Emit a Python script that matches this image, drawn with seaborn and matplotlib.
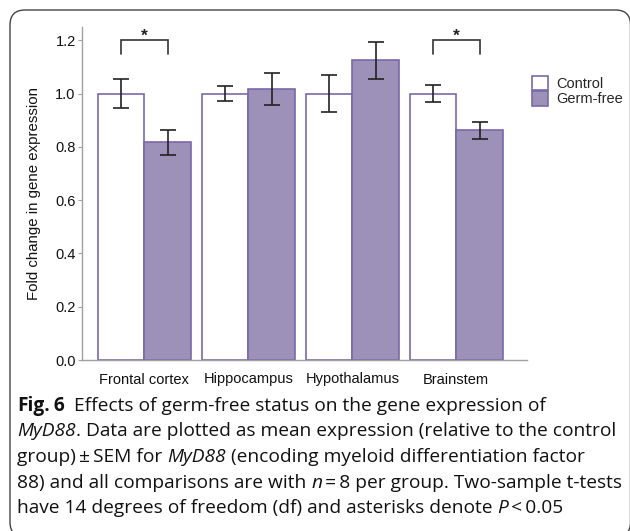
import numpy as np
import pandas as pd
import matplotlib
matplotlib.use("Agg")
import matplotlib.pyplot as plt
import seaborn as sns
from matplotlib.patches import FancyBboxPatch, Patch

# ---------------- data ----------------
regions = ["Frontal cortex", "Hippocampus", "Hypothalamus", "Brainstem"]
groups = ["Control", "Germ-free"]
control_mean = [1.0, 1.0, 1.0, 1.0]
control_sem = [0.055, 0.028, 0.068, 0.033]
germfree_mean = [0.818, 1.016, 1.125, 0.862]
germfree_sem = [0.047, 0.060, 0.070, 0.033]
significant = [True, False, False, True]
y_ticks = [0.0, 0.2, 0.4, 0.6, 0.8, 1.0, 1.2]
bracket_low, bracket_high = 1.15, 1.20

df = pd.DataFrame({
    "region": regions * 2,
    "group": [groups[0]] * len(regions) + [groups[1]] * len(regions),
    "mean": control_mean + germfree_mean,
    "sem": control_sem + germfree_sem,
})

# ---------------- style ----------------
sns.set_theme(style="white")
plt.rcParams["font.family"] = ["Liberation Sans", "DejaVu Sans"]

W, H = 630, 531
fig = plt.figure(figsize=(W / 100, H / 100), dpi=100)
ax = fig.add_axes([82 / W, 1 - 360 / H, (527 - 82) / W, (360 - 27) / H])

edge = "#7a68a8"
fill = "#9d90b9"
palette = {"Control": "white", "Germ-free": fill}

sns.barplot(data=df, x="region", y="mean", hue="group", order=regions,
            hue_order=groups, palette=palette, saturation=1, width=0.9,
            edgecolor=edge, linewidth=1.2, errorbar=None, legend=False, ax=ax)

sems = [control_sem, germfree_sem]
bar_containers = list(ax.containers)
centers = []
for k, cont in enumerate(bar_containers):
    xs = [b.get_x() + b.get_width() / 2 for b in cont]
    hs = [b.get_height() for b in cont]
    centers.append(xs)
    ax.errorbar(xs, hs, yerr=sems[k], fmt="none", ecolor="#222222",
                elinewidth=1.2, capsize=5.5, capthick=1.2, zorder=5)

for i, sig in enumerate(significant):
    if sig:
        x1, x2 = centers[0][i], centers[1][i]
        ax.plot([x1, x1, x2, x2], [bracket_low, bracket_high, bracket_high, bracket_low],
                color="#333333", lw=1.2, solid_joinstyle="miter", clip_on=False)
        ax.text((x1 + x2) / 2, bracket_high - 0.013, "*", ha="center", va="bottom",
                fontsize=12.5, fontweight="bold", color="#222222", clip_on=False)

ax.set_xlim(-0.6, 3.68)
ax.set_ylim(0, 1.25)
ax.set_yticks(y_ticks)
ax.set_yticklabels([f"{v:.1f}" for v in y_ticks])
ax.set_xlabel("")
ax.set_ylabel("Fold change in gene expression", fontsize=10.8, color="#111111", labelpad=10)
for s in ["top", "right"]:
    ax.spines[s].set_visible(False)
for s in ["left", "bottom"]:
    ax.spines[s].set_color("#a0a0a0")
    ax.spines[s].set_linewidth(1.0)
ax.tick_params(axis="y", length=3, width=0.8, color="#a0a0a0", pad=1.5,
               labelsize=10.5, labelcolor="#111111", left=True)
ax.tick_params(axis="x", length=0, pad=9, labelsize=10.5, labelcolor="#111111")

handles = [Patch(facecolor="white", edgecolor=edge, linewidth=1.2),
           Patch(facecolor=fill, edgecolor=edge, linewidth=1.2)]
fig.legend(handles, groups, loc="upper left", bbox_to_anchor=(532 / W, 1 - 76 / H),
           bbox_transform=fig.transFigure, frameon=False, fontsize=10.5,
           handlelength=1.1, handleheight=1.15, labelspacing=0, handletextpad=0.55,
           borderpad=0, borderaxespad=0)

# ---------------- frame ----------------
box = FancyBboxPatch((0.10, -0.06), 6.205, 5.27, boxstyle="round,pad=0,rounding_size=0.15",
                     transform=fig.dpi_scale_trans, facecolor="none",
                     edgecolor="#444444", linewidth=1.0, clip_on=False)
fig.patches.append(box)

# ---------------- caption ----------------
cap_family = ["Open Sans", "DejaVu Sans"]
ts = "\u2009"
caption = [
    [("Fig.", "bold", "normal"), (ts + "6", "bold", "normal"),
     ("  Effects of germ-free status on the gene expression of", "normal", "normal")],
    [("MyD88", "normal", "italic"), (". Data are plotted as mean expression (relative to the control", "normal", "normal")],
    [("group)" + ts + "\u00b1" + ts + "SEM for ", "normal", "normal"), ("MyD88", "normal", "italic"),
     (" (encoding myeloid differentiation factor", "normal", "normal")],
    [("88) and all comparisons are with ", "normal", "normal"), ("n", "normal", "italic"),
     (ts + "=" + ts + "8 per group. Two-sample t-tests", "normal", "normal")],
    [("have 14 degrees of freedom (df) and asterisks denote ", "normal", "normal"), ("P", "normal", "italic"),
     (ts + "<" + ts + "0.05", "normal", "normal")],
]

fig.canvas.draw()
renderer = fig.canvas.get_renderer()


def seg_width(s, weight, style, size):
    t1 = fig.text(0, 0, "|" + s + "|", family=cap_family, fontsize=size, fontweight=weight, fontstyle=style)
    t2 = fig.text(0, 0, "||", family=cap_family, fontsize=size, fontweight=weight, fontstyle=style)
    w = t1.get_window_extent(renderer).width - t2.get_window_extent(renderer).width
    t1.remove(); t2.remove()
    return w


base = 12.0
targets = [530, 596, 559, 595, 555]
meas = [sum(seg_width(s, wt, st, base) for s, wt, st in line) for line in caption]
cap_size = base * sum(targets) / sum(meas)

x0 = 17
baselines = [411, 436.5, 462, 487.5, 513]
for line, yb in zip(caption, baselines):
    x = x0
    for s, wt, st in line:
        fig.text(x / W, 1 - yb / H, s, family=cap_family,
                 fontsize=cap_size, fontweight=wt, fontstyle=st, va="baseline", ha="left",
                 color="#111111")
        x += seg_width(s, wt, st, cap_size)

fig.savefig("out.png", dpi=100)
